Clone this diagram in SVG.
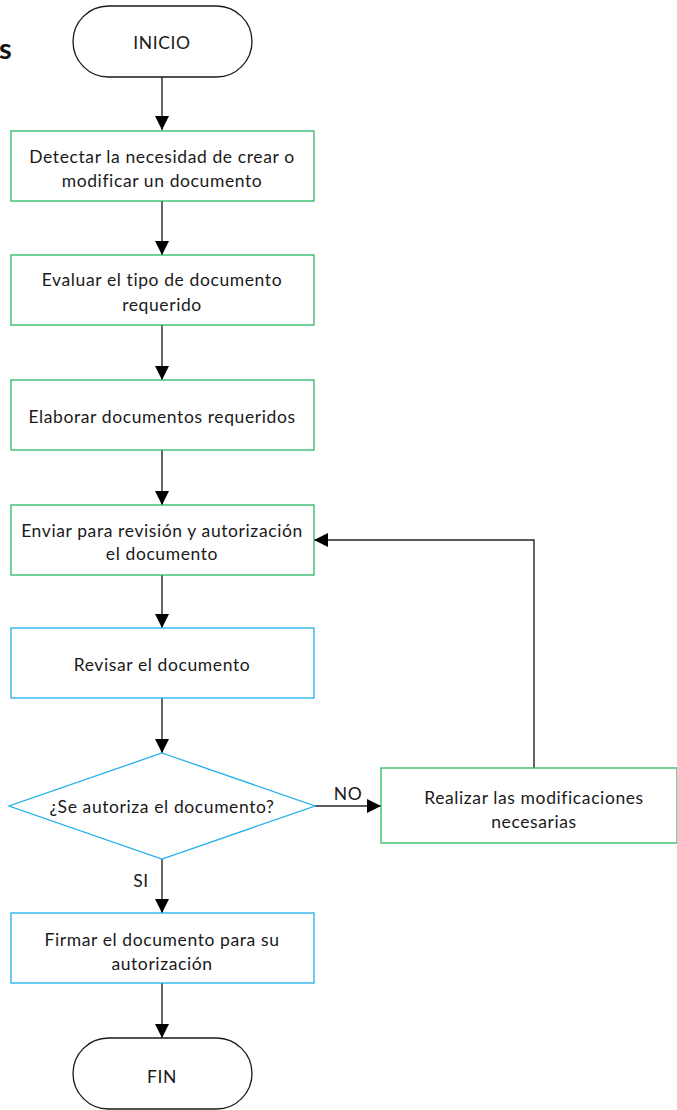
<svg xmlns="http://www.w3.org/2000/svg" width="677" height="1110" viewBox="0 0 677 1110">
  <style>
    .t { font-family: Lato, "Liberation Sans", sans-serif; font-size: 17.5px; letter-spacing: 0.6px; fill: #1a1a1a; text-anchor: middle; dominant-baseline: central; }
    .term { fill: #ffffff; stroke: #1a1a1a; stroke-width: 1.3; }
    .green { fill: #ffffff; stroke: #2cb865; stroke-width: 1.3; }
    .blue { fill: #ffffff; stroke: #1fb0ec; stroke-width: 1.3; }
    .conn { fill: none; stroke: #262626; stroke-width: 1.4; }
  </style>
  <defs>
    <marker id="arrow" viewBox="0 0 10 10" refX="10" refY="5" markerWidth="14" markerHeight="14" markerUnits="userSpaceOnUse" orient="auto">
      <path d="M0,0 L10,5 L0,10 Z" fill="#000000"/>
    </marker>
  </defs>
  <rect width="677" height="1110" fill="#ffffff"/>

  <text x="-1" y="59" style="font-family: Lato, 'Liberation Sans', sans-serif; font-size: 29px; font-weight: bold; fill: #111111;">s</text>

  <g id="connectors">
    <line class="conn" x1="162" y1="77" x2="162" y2="130" marker-end="url(#arrow)"/>
    <line class="conn" x1="162" y1="201" x2="162" y2="255" marker-end="url(#arrow)"/>
    <line class="conn" x1="162" y1="325" x2="162" y2="380" marker-end="url(#arrow)"/>
    <line class="conn" x1="162" y1="450" x2="162" y2="505" marker-end="url(#arrow)"/>
    <line class="conn" x1="162" y1="575" x2="162" y2="628" marker-end="url(#arrow)"/>
    <line class="conn" x1="162" y1="698" x2="162" y2="753" marker-end="url(#arrow)"/>
    <line class="conn" x1="315" y1="806" x2="381" y2="806" marker-end="url(#arrow)"/>
    <polyline class="conn" points="534,768 534,540 314,540" marker-end="url(#arrow)"/>
    <line class="conn" x1="162" y1="859" x2="162" y2="913" marker-end="url(#arrow)"/>
    <line class="conn" x1="162" y1="983" x2="162" y2="1038" marker-end="url(#arrow)"/>
    <text class="t" x="348" y="793">NO</text>
    <text class="t" x="141" y="880">SI</text>
  </g>

  <g id="inicio">
    <rect class="term" x="73" y="6" width="179" height="71" rx="35.5" ry="35.5"/>
    <text class="t" x="162" y="42">INICIO</text>
  </g>

  <g id="detectar">
    <rect class="green" x="11" y="131" width="303" height="70"/>
    <text class="t" x="162" y="156">Detectar la necesidad de crear o</text>
    <text class="t" x="162" y="180">modificar un documento</text>
  </g>

  <g id="evaluar">
    <rect class="green" x="11" y="255" width="303" height="70"/>
    <text class="t" x="162" y="279">Evaluar el tipo de documento</text>
    <text class="t" x="162" y="304">requerido</text>
  </g>

  <g id="elaborar">
    <rect class="green" x="11" y="380" width="303" height="70"/>
    <text class="t" x="162" y="416">Elaborar documentos requeridos</text>
  </g>

  <g id="enviar">
    <rect class="green" x="11" y="505" width="303" height="70"/>
    <text class="t" x="162" y="530">Enviar para revisión y autorización</text>
    <text class="t" x="162" y="553">el documento</text>
  </g>

  <g id="revisar">
    <rect class="blue" x="11" y="628" width="303" height="70"/>
    <text class="t" x="162" y="664">Revisar el documento</text>
  </g>

  <g id="autoriza">
    <polygon class="blue" points="162,753 315,806 162,859 9,806"/>
    <text class="t" x="162" y="806">¿Se autoriza el documento?</text>
  </g>

  <g id="modificaciones">
    <rect class="green" x="381" y="768" width="296" height="75"/>
    <text class="t" x="534" y="797">Realizar las modificaciones</text>
    <text class="t" x="534" y="821">necesarias</text>
  </g>

  <g id="firmar">
    <rect class="blue" x="11" y="913" width="303" height="70"/>
    <text class="t" x="162" y="939">Firmar el documento para su</text>
    <text class="t" x="162" y="963">autorización</text>
  </g>

  <g id="fin">
    <rect class="term" x="73" y="1038" width="179" height="71" rx="35.5" ry="35.5"/>
    <text class="t" x="162" y="1076">FIN</text>
  </g>
</svg>
